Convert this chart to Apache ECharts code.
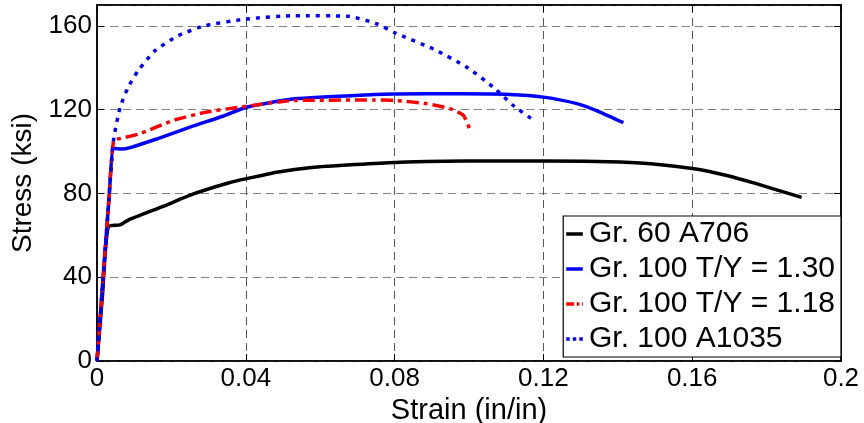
<!DOCTYPE html>
<html><head><meta charset="utf-8">
<script src="https://cdn.jsdelivr.net/npm/echarts@6/dist/echarts.min.js"></script>
<style>html,body{margin:0;padding:0;background:#fff}#c{width:864px;height:423px}</style>
</head><body><div id="c"></div>
<script>
var seriesNames = ['Gr. 60 A706', 'Gr. 100 T/Y = 1.30', 'Gr. 100 T/Y = 1.18', 'Gr. 100 A1035'];
var a706Strain = [0, 0.0015, 0.003, 0.0062, 0.0084, 0.0174, 0.0263, 0.0353, 0.0402, 0.0487, 0.0577, 0.0694, 0.0801, 0.0994, 0.12, 0.146, 0.16, 0.169, 0.177, 0.1894];
var a706Stress = [0, 32, 64, 65, 67.3, 73.6, 80, 85, 87.1, 90.3, 92.4, 93.8, 94.8, 95.5, 95.5, 94.6, 91.9, 88.7, 84.8, 78.1];
var ty130Strain = [0, 0.0032, 0.0045, 0.0065, 0.0089, 0.016, 0.025, 0.034, 0.0402, 0.0532, 0.0747, 0.0801, 0.0976, 0.111, 0.12, 0.129, 0.1352, 0.1415];
var ty130Stress = [0, 77, 101.5, 101.2, 101.9, 106, 111.7, 117, 121.2, 125.2, 127.3, 127.5, 127.6, 127.3, 126, 122.9, 118.9, 113.8];
var ty118Strain = [0, 0.0032, 0.0045, 0.0065, 0.0116, 0.0205, 0.0295, 0.0384, 0.0532, 0.0747, 0.0801, 0.0886, 0.0949, 0.0985, 0.1003];
var ty118Stress = [0, 77, 105.5, 106.3, 108.6, 114.9, 118.9, 121.2, 124.4, 124.6, 124.4, 122.9, 120.5, 117.3, 110.1];
var a1035Strain = [0, 0.0032, 0.0044, 0.0062, 0.0084, 0.0111, 0.0156, 0.0219, 0.029, 0.0402, 0.0532, 0.0676, 0.0752, 0.0801, 0.0904, 0.0994, 0.1065, 0.1119, 0.1168];
var a1035Stress = [0, 77, 105, 121, 130.8, 138.7, 148.2, 155.4, 160.1, 163.3, 164.9, 164.6, 161, 156.7, 149, 140.3, 130.8, 122, 115.7];
var xTickLabels = ['0', '0.04', '0.08', '0.12', '0.16', '0.2'];
var yTickLabels = ['0', '40', '80', '120', '160'];

function pairs(xs, ys) { return xs.map(function (x, i) { return [x, ys[i]]; }); }
var FONT = 'Liberation Sans';
var chart = echarts.init(document.getElementById('c'));
var grid = { left: 97, right: 23, top: 5, bottom: 62, containLabel: false, outerBoundsMode: 'none',
  show: true, borderColor: '#000', borderWidth: 1.5, backgroundColor: 'transparent' };
function xAx(pos, show) {
  return {
    type: 'value', min: 0, max: 0.2, interval: 0.04, position: pos,
    axisLine: { show: true, onZero: false, lineStyle: { color: '#000', width: 1.5 } },
    axisTick: { show: true, inside: true, length: 7, lineStyle: { color: '#000', width: 1 } },
    axisLabel: { show: show, color: '#000', fontFamily: FONT, fontSize: 26, margin: 5,
      formatter: function (v) { return xTickLabels[Math.round(v / 0.04)]; } },
    splitLine: { show: show, lineStyle: { color: '#555', type: [8, 5], width: 1 } },
    name: show ? 'Strain (in/in)' : '', nameLocation: 'middle', nameGap: 30,
    nameTextStyle: { color: '#000', fontFamily: FONT, fontSize: 29 }
  };
}
function yAx(pos, show) {
  return {
    type: 'value', min: 0, max: 170, interval: 40, position: pos,
    axisLine: { show: true, onZero: false, lineStyle: { color: '#000', width: 1.5 } },
    axisTick: { show: true, inside: true, length: 7, lineStyle: { color: '#000', width: 1 } },
    axisLabel: { show: show, color: '#000', fontFamily: FONT, fontSize: 26, margin: 5, showMaxLabel: false,
      formatter: function (v) { var i = Math.round(v / 40); return (v % 40 === 0 && yTickLabels[i]) ? yTickLabels[i] : ''; } },
    splitLine: { show: show, lineStyle: { color: '#808080', type: [8, 5], width: 1 } },
    name: show ? 'Stress (ksi)' : '', nameLocation: 'middle', nameGap: 58, nameRotate: 90,
    nameTextStyle: { color: '#000', fontFamily: FONT, fontSize: 28 }
  };
}
var solidIcon = 'path://M0,0h19v4h-19z';
var dashDotIcon = 'path://M0,0h9v4h-9z M12,0h3v4h-3z M18,0h1v4h-1z';
var dottedIcon = 'path://M0,0h4v4h-4z M7.5,0h4v4h-4z M15,0h4v4h-4z';
chart.setOption({
  animation: false,
  backgroundColor: '#fff',
  grid: grid,
  xAxis: [xAx('bottom', true), xAx('top', false)],
  yAxis: [yAx('left', true), yAx('right', false)],
  legend: {
    orient: 'vertical', right: 23, bottom: 66,
    backgroundColor: '#fff', borderColor: '#000', borderWidth: 1.2, borderRadius: 0,
    padding: [3, 6, 3, 3], itemGap: 5, itemWidth: 19, itemHeight: 3.5,
    itemStyle: { borderWidth: 0 },
    textStyle: { color: '#000', fontFamily: FONT, fontSize: 30, lineHeight: 30 },
    data: [
      { name: seriesNames[0], icon: solidIcon },
      { name: seriesNames[1], icon: solidIcon },
      { name: seriesNames[2], icon: dashDotIcon },
      { name: seriesNames[3], icon: dottedIcon }
    ]
  },
  series: [
    { name: seriesNames[0], type: 'line', data: pairs(a706Strain, a706Stress), showSymbol: false, smooth: 0.2,
      lineStyle: { color: '#000', width: 3.5 }, itemStyle: { color: '#000' }, z: 2 },
    { name: seriesNames[1], type: 'line', data: pairs(ty130Strain, ty130Stress), showSymbol: false, smooth: 0.2,
      lineStyle: { color: '#0000ff', width: 3.5 }, itemStyle: { color: '#0000ff' }, z: 3 },
    { name: seriesNames[2], type: 'line', data: pairs(ty118Strain, ty118Stress), showSymbol: false, smooth: 0.2,
      lineStyle: { color: '#ff0000', width: 3.5, type: [12, 5, 4, 5] }, itemStyle: { color: '#ff0000' }, z: 4 },
    { name: seriesNames[3], type: 'line', data: pairs(a1035Strain, a1035Stress), showSymbol: false, smooth: 0.2,
      lineStyle: { color: '#0000ff', width: 3.5, type: [4, 6] }, itemStyle: { color: '#0000ff' }, z: 5 }
  ]
});
</script></body></html>
